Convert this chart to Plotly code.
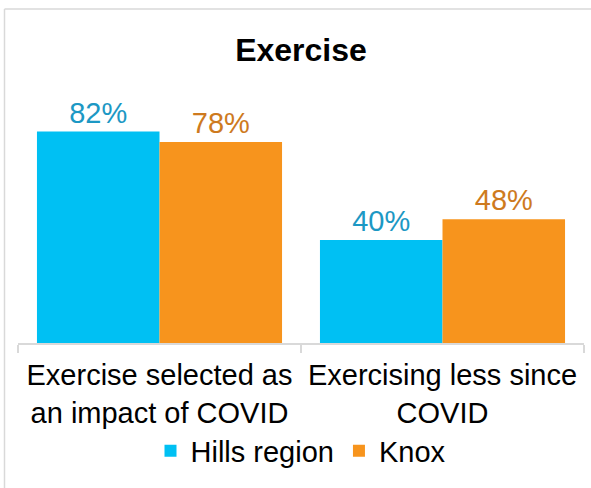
import plotly.graph_objects as go

categories = ["Exercise selected as<br>an impact of COVID", "Exercising less since<br>COVID"]
hills_values = [82, 40]
knox_values = [78, 48]
series_names = ["Hills region", "Knox"]

W, H = 591, 488
ml, mr, mt, mb = 18, 7, 111, 145
plot_w = W - ml - mr
plot_h = H - mt - mb

fig = go.Figure()
fig.add_trace(go.Bar(
    name=series_names[0], x=categories, y=hills_values,
    marker=dict(color="#00C0F3", line=dict(width=0)),
    text=[f"{v}%" for v in hills_values], textposition="outside",
    textfont=dict(color="#1C98C4", size=29, family="Liberation Sans"),
    cliponaxis=False,
))
fig.add_trace(go.Bar(
    name=series_names[1], x=categories, y=knox_values,
    marker=dict(color="#F7941D", line=dict(width=0)),
    text=[f"{v}%" for v in knox_values], textposition="outside",
    textfont=dict(color="#CE7A1E", size=29, family="Liberation Sans"),
    cliponaxis=False,
))

# partial border (top & left) like the cropped reference
bx0 = (4.5 - ml) / plot_w
by1 = (H - mb - 9) / plot_h
fig.add_shape(type="line", xref="paper", yref="paper", x0=bx0, x1=1.2, y0=by1, y1=by1,
              line=dict(color="#D9D9D9", width=1.5))
fig.add_shape(type="line", xref="paper", yref="paper", x0=bx0, x1=bx0, y0=by1, y1=-1.5,
              line=dict(color="#D9D9D9", width=1.5))

fig.update_layout(
    width=W, height=H,
    margin=dict(l=ml, r=mr, t=mt, b=mb, autoexpand=False),
    paper_bgcolor="white", plot_bgcolor="white",
    barmode="group", bargap=0.134, bargroupgap=0,
    font=dict(family="Liberation Sans", color="black", size=29),
    title=dict(text="<b>Exercise</b>", x=0.5, xref="paper", y=1 - 50 / H, yref="container",
               yanchor="middle", xanchor="center",
               font=dict(size=32, color="black", family="Liberation Sans")),
    showlegend=True,
    legend=dict(orientation="h", x=0.5, xanchor="center", y=(-(451 - (H - mb))) / plot_h,
                yanchor="middle", font=dict(size=29, color="black"),
                bgcolor="rgba(0,0,0,0)"),
    xaxis=dict(showline=True, linecolor="#D9D9D9", linewidth=2, automargin=False,
               ticks="outside", tickson="boundaries", ticklen=8, tickcolor="#D9D9D9",
               tickwidth=2, ticklabelstandoff=5,
               tickfont=dict(size=29, color="black"), showgrid=False,
               fixedrange=True),
    yaxis=dict(range=[0, 90], visible=False, showgrid=False, fixedrange=True, automargin=False),
)

fig.write_html(
    "out.html",
    config={"displayModeBar": False},
    post_script="document.body.style.margin='0';document.body.style.padding='0';"
                "document.body.style.overflow='hidden';",
)
